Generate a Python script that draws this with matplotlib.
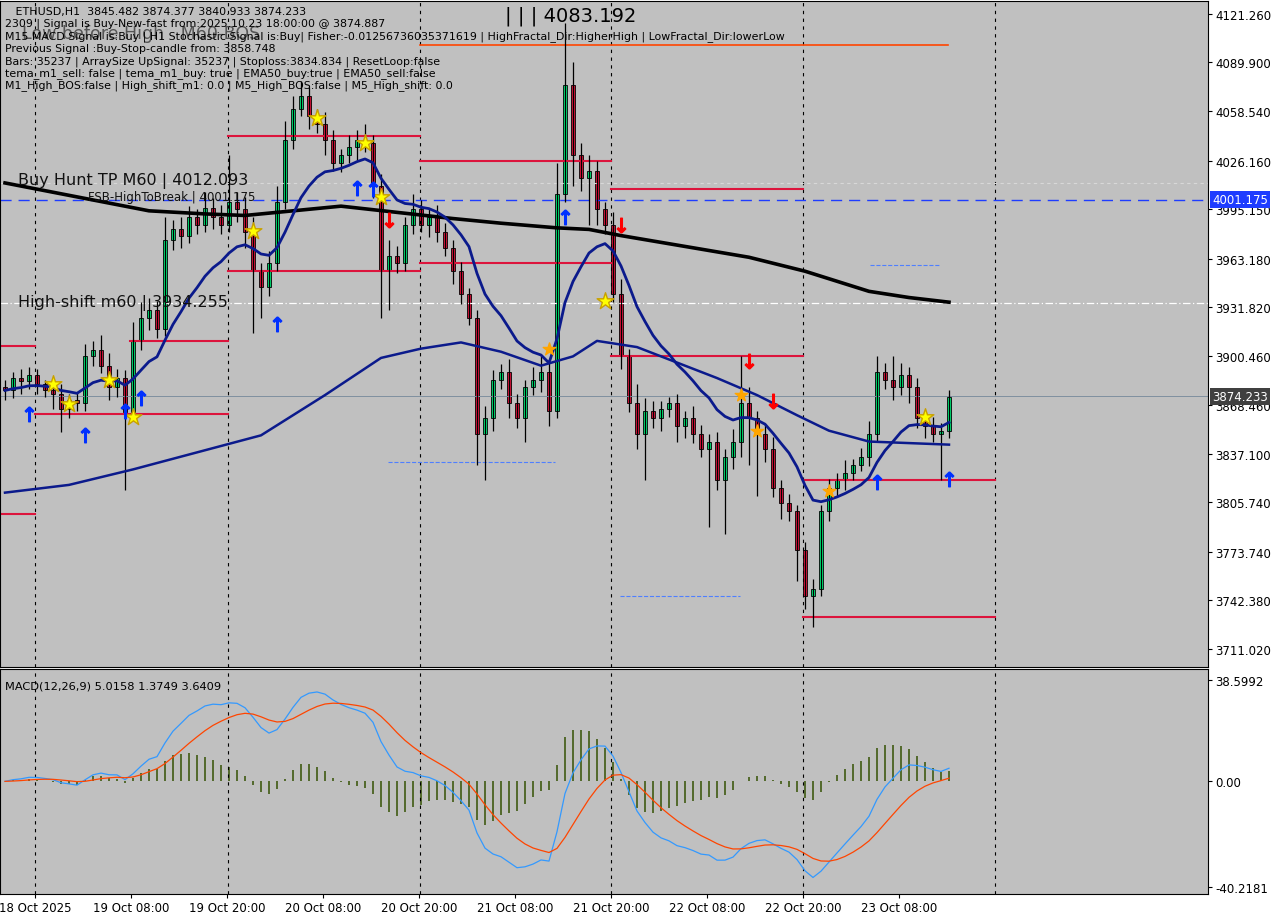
import matplotlib
matplotlib.use('Agg')
import matplotlib.pyplot as plt
import numpy as np
import pandas as pd

BG = '#c0c0c0'

# ---- data ----
closes = [3878,3886,3884,3888,3882,3878,3876,3866,3872,3870,
          3900,3904,3894,3880,3886,3864,3910,3925,3930,3918,
          3975,3982,3978,3990,3985,3996,3990,3985,4000,3995,
          3980,3955,3945,3960,4000,4040,4060,4068,4055,4050,
          4040,4025,4030,4035,4040,4038,4010,3955,3965,3960,
          3985,3995,3985,3990,3980,3970,3955,3940,3925,3850,
          3860,3885,3890,3870,3860,3880,3885,3890,3865,4005,
          4075,4030,4015,4020,3995,3985,3940,3900,3870,3850,
          3865,3860,3866,3870,3855,3860,3850,3840,3845,3820,
          3835,3845,3870,3860,3850,3840,3815,3805,3800,3775,
          3745,3750,3800,3815,3820,3825,3830,3835,3850,3890,
          3885,3880,3888,3880,3860,3855,3850,3852,3874]
first_open = 3880
up_wick = [5,4,6,5,4,3,5,6,4,5, 8,6,10,8,6,5,12,10,8,6, 15,6,8,7,5,10,6,8,30,6,
           8,10,5,8,10,12,8,10,6,5, 8,6,4,8,6,10,5,8,10,6, 5,10,6,5,8,6,5,6,4,5,
           8,6,5,8,6,5,8,10,6,20, 40,15,8,10,6,5,8,10,5,12, 8,6,5,4,6,5,8,6,5,6,
           5,8,30,10,5,6,8,5,6,4, 5,6,4,6,5,8,4,6,8,10, 6,15,8,5,6,5,6,5,4]
low_wick = [6,5,8,5,6,4,10,15,6,5, 5,6,5,8,6,50,5,6,8,6, 5,6,8,5,6,5,8,6,5,8,
            10,40,20,6,5,5,6,5,8,6, 10,5,6,5,8,6,8,30,25,6, 5,6,5,8,6,5,8,6,5,20,
            30,8,6,10,6,15,5,8,10,5, 5,20,8,30,10,6,5,8,6,10, 30,6,8,5,10,8,6,5,50,6,
            35,8,10,30,40,8,6,10,6,20, 8,20,5,6,5,6,5,4,6,5, 6,8,5,10,6,8,5,30,5]

slow_ma_idx = [0,8,18,25,30,36,42,49,56,62,69,73,77,85,93,100,108,113,118]
slow_ma_val = [4012,4004,3994,3992,3991,3994,3997,3993,3989,3986,3983,3982,3978,3971,3964,3955,3942,3938,3935]
mid_ma_idx = [0,8,16,24,32,40,47,52,57,62,67,71,74,79,84,89,94,99,103,108,113,118]
mid_ma_val = [3812,3817,3827,3838,3849,3875,3899,3905,3909,3903,3894,3900,3910,3906,3896,3886,3875,3862,3852,3845,3844,3843]

# red levels: (start bar, end bar, price)
lvl_x0 = [-0.6, 3.75, 15.6, -0.6, 27.9, 27.9, 51.9, 51.9, 75.75, 75.75, 99.75, 99.75]
lvl_x1 = [3.75, 27.9, 27.9, 3.75, 51.9, 51.9, 75.75, 75.75, 99.75, 99.75, 123.75, 123.75]
lvl_p = [3907, 3863, 3910, 3798, 4042, 3955, 4026, 3960, 4008, 3900, 3820, 3732]

up_idx = [3,10,15,17,34,44,46,70,109,118]
up_p = [3871,3857,3873,3881,3929,4017,4016,3998,3827,3829]
dn_idx = [48,77,93,96]
dn_p = [3980,3977,3889,3863]
star_idx = [6,8,13,16,31,39,45,47,75,115]
star_p = [3882,3869,3885,3861,3981,4054,4038,4003,3936,3861]
x_idx = [68,92,94,103]
x_p = [3905,3875,3852,3813]

tick_prices = [4121.260,4089.900,4058.540,4026.160,3995.150,3963.180,3931.820,
               3900.460,3868.460,3837.100,3805.740,3773.740,3742.380,3711.020]
time_labels = ['18 Oct 2025','19 Oct 08:00','19 Oct 20:00','20 Oct 08:00','20 Oct 20:00',
               '21 Oct 08:00','21 Oct 20:00','22 Oct 08:00','22 Oct 20:00','23 Oct 08:00']
header = ['   ETHUSD,H1  3845.482 3874.377 3840.933 3874.233',
          '2309 | Signal is Buy-New-fast from:2025.10.23 18:00:00 @ 3874.887',
          'M15 MACD Signal is:Buy | H1 Stochastic Signal is:Buy| Fisher:-0.01256736035371619 | HighFractal_Dir:HigherHigh | LowFractal_Dir:lowerLow',
          'Previous Signal :Buy-Stop-candle from: 3858.748',
          'Bars: 35237 | ArraySize UpSignal: 35237 | Stoploss:3834.834 | ResetLoop:false',
          'tema_m1_sell: false | tema_m1_buy: true | EMA50_buy:true | EMA50_sell:false',
          'M1_High_BOS:false | High_shift_m1: 0.0 | M5_High_BOS:false | M5_High_shift: 0.0']

# ---- derived series ----
c = pd.Series(closes, dtype=float)
o = pd.Series([first_open] + closes[:-1], dtype=float)
h = np.maximum(o, c) + np.array(up_wick)
l = np.minimum(o, c) - np.array(low_wick)
idx = np.arange(len(c))
fast_ma = c.ewm(span=13, adjust=False).mean()
macd = c.ewm(span=12, adjust=False).mean() - c.ewm(span=26, adjust=False).mean()
sig = macd.ewm(span=9, adjust=False).mean()
hist = macd - sig

def px2bar(px):
    return (px - 5) / 8.0

fig = plt.figure(figsize=(12.8, 9.2), dpi=100, facecolor='white')
ax = fig.add_axes([0.0, 1 - 668/920, 1208/1280, 668/920 - 0.002])
ax2 = fig.add_axes([0.0, 1 - 895/920, 1208/1280, (895 - 670)/920])
for a in (ax, ax2):
    a.set_facecolor(BG)
    a.set_xlim(px2bar(0), px2bar(1208))
    for s in a.spines.values():
        s.set_color('black'); s.set_linewidth(0.8)
    a.yaxis.tick_right()
    a.tick_params(axis='y', labelsize=8.5, length=3, pad=2)

ax.set_ylim(3699.4, 4129.6)
ax2.set_ylim(-42.9, 42.8)

# vertical separators
for px in [35, 228, 420, 611, 803, 995]:
    for a in (ax, ax2):
        a.axvline(px2bar(px), color='black', ls=(0, (3, 4)), lw=0.8)

# horizontal reference lines
ax.axhline(4001.175, color='#1e3cff', ls=(0, (8, 5)), lw=1)
ax.axhline(4012.09, color='#d8d8d8', ls=(0, (3, 3)), lw=0.8)
ax.axhline(3934.255, color='white', ls=(0, (6, 2, 1, 2)), lw=0.9)
ax.axhline(3874.233, color='#8090a0', lw=0.7)

# red levels
for x0, x1, p in zip(lvl_x0, lvl_x1, lvl_p):
    ax.plot([x0, x1], [p, p], color='#dc143c', lw=1.5)
ax.plot([px2bar(420), px2bar(948)], [4101, 4101], color='#ff4500', lw=1.2)

# blue dashed channel pieces
ax.plot([px2bar(388), px2bar(555)], [3832, 3832], color='#4f7fff', ls='--', lw=0.8)
ax.plot([px2bar(620), px2bar(740)], [3745, 3745], color='#4f7fff', ls='--', lw=0.8)
ax.plot([px2bar(870), px2bar(940)], [3959, 3959], color='#4f7fff', ls='--', lw=0.8)

# candles
for i in idx:
    col = '#00e676' if c[i] >= o[i] else '#dc143c'
    ax.vlines(i, l[i], h[i], color='black', lw=0.9)
    lo, hi = min(o[i], c[i]), max(o[i], c[i])
    ax.bar(i, max(hi - lo, 0.8), bottom=lo, width=0.62, color=col, edgecolor='black', linewidth=0.6)

# moving averages
ax.plot(slow_ma_idx, slow_ma_val, color='black', lw=2.6)
ax.plot(mid_ma_idx, mid_ma_val, color='#0b1a8c', lw=1.8)
ax.plot(idx, fast_ma, color='#0b1a8c', lw=2.0)

# signals
ax.scatter(star_idx, star_p, marker='*', s=160, color='yellow', edgecolor='#c8a000', zorder=5)
ax.scatter(x_idx, x_p, marker='*', s=90, color='orange', zorder=5)
ax.scatter(up_idx, [p - 8 for p in up_p], marker=r'$\uparrow$', s=110, color='#0030ff', zorder=5)
ax.scatter(dn_idx, [p + 8 for p in dn_p], marker=r'$\downarrow$', s=110, color='#ff0000', zorder=5)

# price ticks
ax.set_yticks(tick_prices)
ax.set_yticklabels([f'{t:.3f}' for t in tick_prices])
ax.set_xticks([])
for p, fc in [(4001.175, '#1e3cff'), (3874.233, '#404040')]:
    ax.annotate(f'{p:.3f}', xy=(1.0, p), xycoords=('axes fraction', 'data'), xytext=(3, 0),
                textcoords='offset points', va='center', ha='left', fontsize=8.5, color='white',
                bbox=dict(boxstyle='square,pad=0.15', fc=fc, ec='none'))

# texts
ax.text(px2bar(18), 4014, 'Buy Hunt TP M60 | 4012.093', fontsize=11.5, color='#111', va='center')
ax.text(px2bar(88), 4003, 'FSB-HighToBreak | 4001.175', fontsize=8.5, color='#111', va='center')
ax.text(px2bar(18), 3935, 'High-shift m60 | 3934.255', fontsize=11.5, color='#111', va='center')
ax.text(px2bar(22), 4109, 'Low before High   M60-BOS', fontsize=12.5, color='#555', va='center')
ax.text(px2bar(505), 4120.5, '| | | 4083.192', fontsize=14, color='black', va='center')
for k, line in enumerate(header):
    ax.text(0.004, 1 - (10 + 12.4 * k) / 668, line, transform=ax.transAxes, fontsize=7.9,
            va='center', ha='left', color='black')

# MACD
ax2.bar(idx, hist, width=0.35, color='#556b2f')
ax2.plot(idx, macd, color='#3399ff', lw=0.9)
ax2.plot(idx, sig, color='#ff4500', lw=0.9)
ax2.set_yticks([38.5992, 0.0, -40.2181])
ax2.set_yticklabels(['38.5992', '0.00', '-40.2181'])
ax2.text(0.004, 0.95, 'MACD(12,26,9) 5.0158 1.3749 3.6409', transform=ax2.transAxes,
         fontsize=8.2, va='top')
ax2.set_xticks([3.75 + 12 * k for k in range(len(time_labels))])
ax2.set_xticklabels(time_labels, fontsize=8.5)
ax2.tick_params(axis='x', length=3, pad=2)

fig.savefig('out.png', dpi=100, facecolor='white')
